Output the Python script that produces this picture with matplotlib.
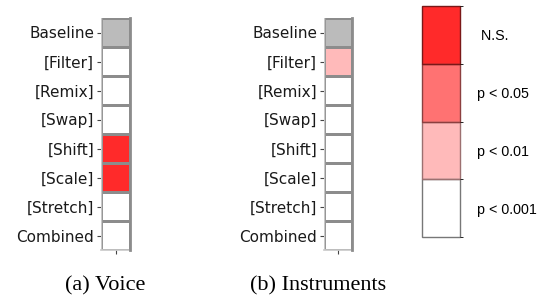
import numpy as np
import matplotlib
matplotlib.use("Agg")
import matplotlib.pyplot as plt
from matplotlib.colors import ListedColormap, BoundaryNorm
from matplotlib.patches import Rectangle

# rows of the significance table
conditions = ["Baseline", "[Filter]", "[Remix]", "[Swap]",
              "[Shift]", "[Scale]", "[Stretch]", "Combined"]
# significance levels, lowest code first
levels = ["p < 0.001", "p < 0.01", "p < 0.05", " N.S."]
level_colors = ["#ffffff", "#ffbaba", "#ff7272", "#ff2a2a"]
level_edges = ["#777777", "#9c7070", "#8c3f3f", "#7a1818"]

# level index per condition (nan = baseline, drawn gray)
voice = [np.nan, 0, 0, 0, 3, 3, 0, 0]
instruments = [np.nan, 1, 0, 0, 0, 0, 0, 0]

captions = ["(a) Voice", "(b) Instruments"]

W, H = 543, 296
fig = plt.figure(figsize=(W / 100, H / 100), dpi=100)

cmap = ListedColormap(level_colors)
norm = BoundaryNorm(np.arange(-0.5, len(levels)), cmap.N)


def px_axes(x0, y0, x1, y1):
    return fig.add_axes([x0 / W, 1 - y1 / H, (x1 - x0) / W, (y1 - y0) / H])


def draw_panel(ax, vals):
    data = np.ma.masked_invalid(np.array(vals, dtype=float).reshape(-1, 1))
    ax.set_facecolor("#bbbbbb")
    ax.pcolormesh(data, cmap=cmap, norm=norm, edgecolors="#8c8c8c", linewidth=1.0)
    ax.set_ylim(len(vals), 0)
    ax.set_xlim(0, 1)
    ax.set_yticks(np.arange(len(vals)) + 0.5)
    ax.set_yticklabels(conditions, fontsize=11, color="#1a1a1a")
    ax.set_xticks([0.5])
    ax.set_xticklabels([""])
    ax.tick_params(length=3, width=0.8, color="#444444", pad=2)
    for s in ["top", "left", "bottom"]:
        ax.spines[s].set_visible(False)
    ax.spines["right"].set_color("#8c8c8c")
    ax.spines["right"].set_linewidth(2)
    ax.axhline(len(vals), color="#c8c8c8", lw=1.2, clip_on=False)
    ax.axvline(0, color="#c8c8c8", lw=1.0)


ax1 = px_axes(101, 18, 130, 250)
draw_panel(ax1, voice)
ax2 = px_axes(324, 18, 352, 250)
draw_panel(ax2, instruments)

fig.text(105 / W, 1 - 286 / H, captions[0], ha="center", va="center",
         family="Liberation Serif", fontsize=16)
fig.text(318 / W, 1 - 286 / H, captions[1], ha="center", va="center",
         family="Liberation Serif", fontsize=16)

# significance legend as a discrete colorbar
cax = px_axes(422, 6, 460, 237)
sm = plt.cm.ScalarMappable(cmap=cmap, norm=norm)
cb = fig.colorbar(sm, cax=cax, ticks=np.arange(len(levels)))
cb.ax.set_yticklabels(levels, family="Liberation Sans", fontsize=10.3)
cb.ax.tick_params(length=0, pad=12)
cb.outline.set_visible(False)
n = len(levels)
for i, ec in enumerate(level_edges):
    cax.add_patch(Rectangle((0, i / n), 1, 1 / n, transform=cax.transAxes,
                            fill=False, edgecolor=ec, lw=1.0, clip_on=False))

fig.savefig("out.png", dpi=100)
